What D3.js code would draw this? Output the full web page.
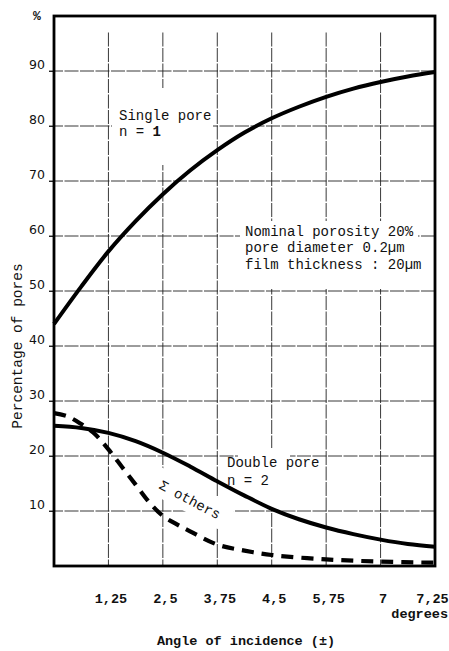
<!DOCTYPE html>
<html><head><meta charset="utf-8">
<script src="https://cdn.jsdelivr.net/npm/d3@7"></script>
<style>body{margin:0;background:#fff}</style>
</head><body><svg id="c" width="449" height="651"></svg>
<script>
// ---- data ----
const angleSteps = [0,0.5,1,1.5,2,2.5,3,3.5,4,4.5,5,5.5,6,6.5,7];
const singlePore = [44,50.8,57.2,62.7,67.6,71.9,75.6,78.8,81.4,83.5,85.3,86.8,88,89,89.8];
const doublePore = [25.5,25.1,24.2,22.7,20.6,18.1,15.4,12.8,10.4,8.5,7,5.8,4.8,4.0,3.5];
const othersSteps = [0,0.25,0.5,0.75,1,1.25,1.5,1.75,2,2.25,2.5,3,3.5,4,5,6,7];
const othersPct = [27.8,27.2,25.8,24,21.2,18,14.8,11.6,9.1,7.6,6.3,3.9,2.8,2,1.2,0.8,0.6];
const xTickPositions = [1,2,3,4,5,6,7];
const xTickLabels = ["1,25","2,5","3,75","4,5","5,75","7","7,25"];
const yTicks = [10,20,30,40,50,60,70,80,90];

const svg = d3.select("#c");
svg.append("rect").attr("width",449).attr("height",651).attr("fill","#fff");

const x = d3.scaleLinear().domain([0,7]).range([54,435]);
const y = d3.scaleLinear().domain([0,100]).range([566,16]);

const mono = "'Liberation Mono','DejaVu Sans Mono',monospace";

// gridlines
const grid = svg.append("g").attr("stroke","#222").attr("stroke-width",0.9).attr("stroke-dasharray","14,1.5");
grid.selectAll(".h").data(yTicks).join("line")
  .attr("x1",x(0)-5).attr("x2",x(7)).attr("y1",d=>y(d)).attr("y2",d=>y(d));
grid.selectAll(".v").data(xTickPositions.slice(0,6)).join("line")
  .attr("x1",d=>x(d)).attr("x2",d=>x(d)).attr("y1",y(97)).attr("y2",y(0));

// white patches where the gridlines are interrupted by annotations
const patch = svg.append("g").attr("fill","#fff");
patch.append("rect").attr("x",112).attr("y",88).attr("width",101).attr("height",77);
patch.append("rect").attr("x",240).attr("y",221).attr("width",178).attr("height",68);
patch.append("rect").attr("x",238).attr("y",448).attr("width",52).attr("height",60);
patch.append("rect").attr("x",-6).attr("y",-20).attr("width",84).attr("height",28)
  .attr("transform","translate(158,488) rotate(28)");

// y axis ticks + labels
const yAxis = svg.append("g").attr("transform",`translate(${x(0)},0)`)
  .call(d3.axisLeft(y).tickValues(yTicks).tickSize(5).tickPadding(4).tickFormat(d3.format("d")));
yAxis.select(".domain").remove();
yAxis.selectAll("line").attr("stroke","#222");
yAxis.selectAll("text").attr("dy",-3).attr("font-family","'DejaVu Sans',sans-serif")
  .attr("font-size",12.5).attr("fill","#111");

// x axis labels
const xAxis = svg.append("g").attr("transform",`translate(0,${y(0)})`)
  .call(d3.axisBottom(x).tickValues(xTickPositions).tickSize(0).tickPadding(27)
    .tickFormat((d,i)=>xTickLabels[i]));
xAxis.select(".domain").remove();
xAxis.selectAll("text").attr("dx",(d,i)=> i===xTickPositions.length-1 ? -3 : 2)
  .attr("font-family",mono).attr("font-weight","bold")
  .attr("font-size",13.5).attr("fill","#111");

// curves
const lineA = d3.line().curve(d3.curveCatmullRom.alpha(0.5)).x(d=>x(d[0])).y(d=>y(d[1]));
svg.append("path").datum(d3.zip(angleSteps,singlePore)).attr("d",lineA)
  .attr("fill","none").attr("stroke","#000").attr("stroke-width",4);
svg.append("path").datum(d3.zip(angleSteps,doublePore)).attr("d",lineA)
  .attr("fill","none").attr("stroke","#000").attr("stroke-width",4);
svg.append("path").datum(d3.zip(othersSteps,othersPct)).attr("d",lineA)
  .attr("fill","none").attr("stroke","#000").attr("stroke-width",4.2)
  .attr("stroke-dasharray","12,8");

// frame
svg.append("rect").attr("x",x(0)).attr("y",y(100)).attr("width",x(7)-x(0)).attr("height",y(0)-y(100))
  .attr("fill","none").attr("stroke","#000").attr("stroke-width",2.8);

// annotations
const txt = (s,px,py,opts={}) => svg.append("text").attr("x",px).attr("y",py).text(s)
  .attr("font-family",mono).attr("font-size",opts.size||14).attr("fill","#111")
  .attr("font-weight",opts.weight||"normal").attr("text-anchor",opts.anchor||"start");

txt("Single pore",119,119.5);
const n1 = txt("n = ",119,136);
n1.append("tspan").attr("font-weight","bold").text("1");
txt("Nominal porosity 20%",245,236);
txt("pore diameter 0.2µm",245,252);
txt("film thickness : 20µm",245,269);
txt("Double pore",227,467);
txt("n = 2",227,485);
svg.append("text").attr("transform","translate(158,488) rotate(28)").text("Σ others")
  .attr("font-family",mono).attr("font-size",14).attr("fill","#111");

txt("%",37,20,{weight:"bold",anchor:"middle",size:13});
txt("degrees",448,618,{weight:"bold",anchor:"end",size:13.5});
txt("Angle of incidence (±)",246,645,{weight:"bold",anchor:"middle",size:13.5});
svg.append("text").attr("transform","translate(22,346) rotate(-90)").attr("text-anchor","middle")
  .text("Percentage of pores").attr("font-family",mono).attr("font-size",14.5).attr("fill","#111");
</script></body></html>
